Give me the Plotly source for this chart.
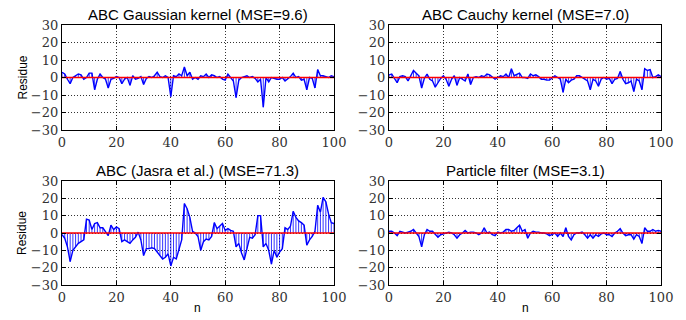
import plotly.graph_objects as go

n = list(range(101))

titles = [
    "ABC Gaussian kernel (MSE=9.6)",
    "ABC Cauchy kernel (MSE=7.0)",
    "ABC (Jasra et al.) (MSE=71.3)",
    "Particle filter (MSE=3.1)",
]

gaussian = [3, 2, -1, -3.5, 0, 1, 2, 1.5, -1, 0, 2.5, 2.5, -7, -1, 2, 0, -1, -6, -1, -0.5,
            0.5, 0, -3.5, -1, 0, -4.5, 1, -1, -0.5, 0.5, -4, -0.5, 0.5, 0, 1, 3, 0.5, 0, 1, 0,
            -11, 1, 0.5, 2, 1, 6, 1, 3, -1, 0, -1, 1, 0.5, 2, 0, 1.5, 1, 0, 0.5, -1,
            -1.5, 2, 0, -2, -11.5, -1.5, 0, 0.5, 1, 0, 0.5, -0.5, -2.5, -1, -17, 0, -2.5, 0, -0.5, -1,
            -1, 0, -2, -1, 0.5, 2.5, 0, 0.5, -1.5, -1, -7, 0, -0.5, -6, 4.5, 1, 1, 0.5, 0, 1, 0.5]

cauchy = [1.5, 2, -0.5, -3, 0.5, 1, 0.5, -2, 1, 4, 2.5, 1, -6, -0.5, 2, -1, -2, -5.5, -3, -0.5,
          1, -1, -5, -1, 1, -4.5, 0, -1, -2, 2, -4, 0, 0.5, 0, 1, 0.5, 2, 1.5, 0, -1,
          0, 1, 0.5, 2, 0, 5, 1, 2, 2.5, 0, 0, -0.5, 2, 1, 1.5, 0.5, -1, -1, -1.5, -1.5,
          -0.5, 1, 0, -1, -8.5, -1, -3, -1.5, -1, 1, 1, 0, -1, -2, -7, -1, -2, -5, -1, 0,
          -1, -0.5, -3.5, -1, -0.5, 3.5, -1, -3.5, -3, -2, -8, -1, -2, -7, 5, 4, 4.5, 0, 0.5, 1.5, 0.5]

jasra = [-1, -3, -8, -16.5, -10, -8, -6, -5, -4, 8, 7.5, 2, 5.5, 6, 3, 3, 1, -1.5, 4.5, 2,
         3.5, 2.5, -5, -4, -5, -6, -4, -2.5, 0.5, -4, -13, -9, -9, -8.5, -9, -11, -13, -15, -14, -12,
         -19, -14, -15, -10, -4, 17, 14, 9, 1, 0, -2, -10, -5, -3.5, -4, -2, 6, 2.5, 4, 5.5,
         1.5, 2.5, 1.5, 1, -8, -6, -11.5, -15.5, -9, -2.5, -3, -1, 10, 10, -8, -6, -10, -18, -10, -14,
         -11, -9, 3, 2, 4, 12.5, 9, 7, 6, 4.5, -7, -4, -2, 1, 16, 12, 20.5, 18, 11, 6, 5.5]

particle = [1, 1, 0, -1.5, 1, 0.5, 0, 0.5, 1, 2, 0, -2, -8, -1, 2, 1, 1, -1, -2.5, -1,
            -0.5, 0, 0.5, 0, -1, -3, -1, 0, 1.5, 0, 0.5, 0.5, 0, -1, 0, 3, 0, 0.5, -1, -1.5,
            0.5, 0, 0.5, 2, 2, 1, 1.5, 3, 4.5, 1, 2, -3, 0, 1, 0.5, 0.5, 0, 0, -0.5, -1.5,
            -0.5, 0, -2, 0, -2, 3, -2, -4, -1, 0, 0, 0.5, -1, -3, -1, -3, -1, -2, -0.5, 0,
            -1, -1, -2, 0, 1, 2.5, 0, -1.5, -1, -1, -3.5, -1, -2, -6, 3, 1, 1, 2, 1, 1.5, 1]

series = [gaussian, cauchy, jasra, particle]

yticks = [-30, -20, -10, 0, 10, 20, 30]
xticks = [0, 20, 40, 60, 80, 100]

W, H = 686, 320
xdoms = [[62 / W, 334 / W], [389 / W, 661 / W]]
ydoms = [[1 - 130 / H, 1 - 25 / H], [1 - 285 / H, 1 - 181 / H]]

fig = go.Figure()
layout = dict(
    width=W, height=H,
    margin=dict(l=0, r=0, t=0, b=0, autoexpand=False),
    paper_bgcolor="white", plot_bgcolor="white",
    showlegend=False,
    annotations=[],
)

serif = dict(family="'DejaVu Serif', 'Liberation Serif', serif", size=13, color="#333")
sans = "Liberation Sans, Arial, sans-serif"

for i, (vals, title) in enumerate(zip(series, titles)):
    r, c = divmod(i, 2)
    k = "" if i == 0 else str(i + 1)
    xa, ya = "x" + k, "y" + k
    # stems
    sx, sy = [], []
    for xi, vi in zip(n, vals):
        sx += [xi, xi, None]
        sy += [0, vi, None]
    fig.add_trace(go.Scatter(x=sx, y=sy, mode="lines", xaxis=xa, yaxis=ya,
                             line=dict(color="#0000ff", width=0.8), hoverinfo="skip"))
    fig.add_trace(go.Scatter(x=n, y=vals, mode="lines", xaxis=xa, yaxis=ya,
                             line=dict(color="#0000ff", width=1.4)))
    fig.add_trace(go.Scatter(x=[n[0], n[-1]], y=[0, 0], mode="lines", xaxis=xa, yaxis=ya,
                             line=dict(color="#ff0000", width=1.3)))
    axcommon = dict(showline=True, linecolor="black", linewidth=1.2, mirror="ticks",
                    ticks="inside", ticklen=4, tickcolor="black", automargin=False,
                    showgrid=True, gridcolor="rgba(0,0,0,0.8)", griddash="1px,2px", gridwidth=1,
                    zeroline=False, tickfont=serif)
    layout["xaxis" + k] = dict(domain=xdoms[c], range=[0, 100], tickvals=xticks,
                               anchor=ya, **axcommon)
    layout["yaxis" + k] = dict(domain=ydoms[r], range=[-30, 30], tickvals=yticks,
                               anchor=xa, **axcommon)
    layout["annotations"].append(dict(
        text=title, xref="paper", yref="paper",
        x=(xdoms[c][0] + xdoms[c][1]) / 2, y=ydoms[r][1],
        xanchor="center", yanchor="bottom", yshift=0, showarrow=False,
        font=dict(family=sans, size=15, color="black")))
    if c == 0:
        layout["annotations"].append(dict(
            text="Residue", xref="paper", yref="paper",
            x=22 / W, y=(ydoms[r][0] + ydoms[r][1]) / 2, textangle=-90,
            xanchor="center", yanchor="middle", showarrow=False,
            font=dict(family=sans, size=12, color="black")))
    if r == 1:
        layout["annotations"].append(dict(
            text="n", xref="paper", yref="paper",
            x=(xdoms[c][0] + xdoms[c][1]) / 2, y=1 - 308 / H,
            xanchor="center", yanchor="middle", showarrow=False,
            font=dict(family=sans, size=12, color="black")))

fig.update_layout(**layout)
fig.write_html("out.html", config={"displayModeBar": False},
               post_script="document.body.style.margin='0';document.body.style.overflow='hidden';")
